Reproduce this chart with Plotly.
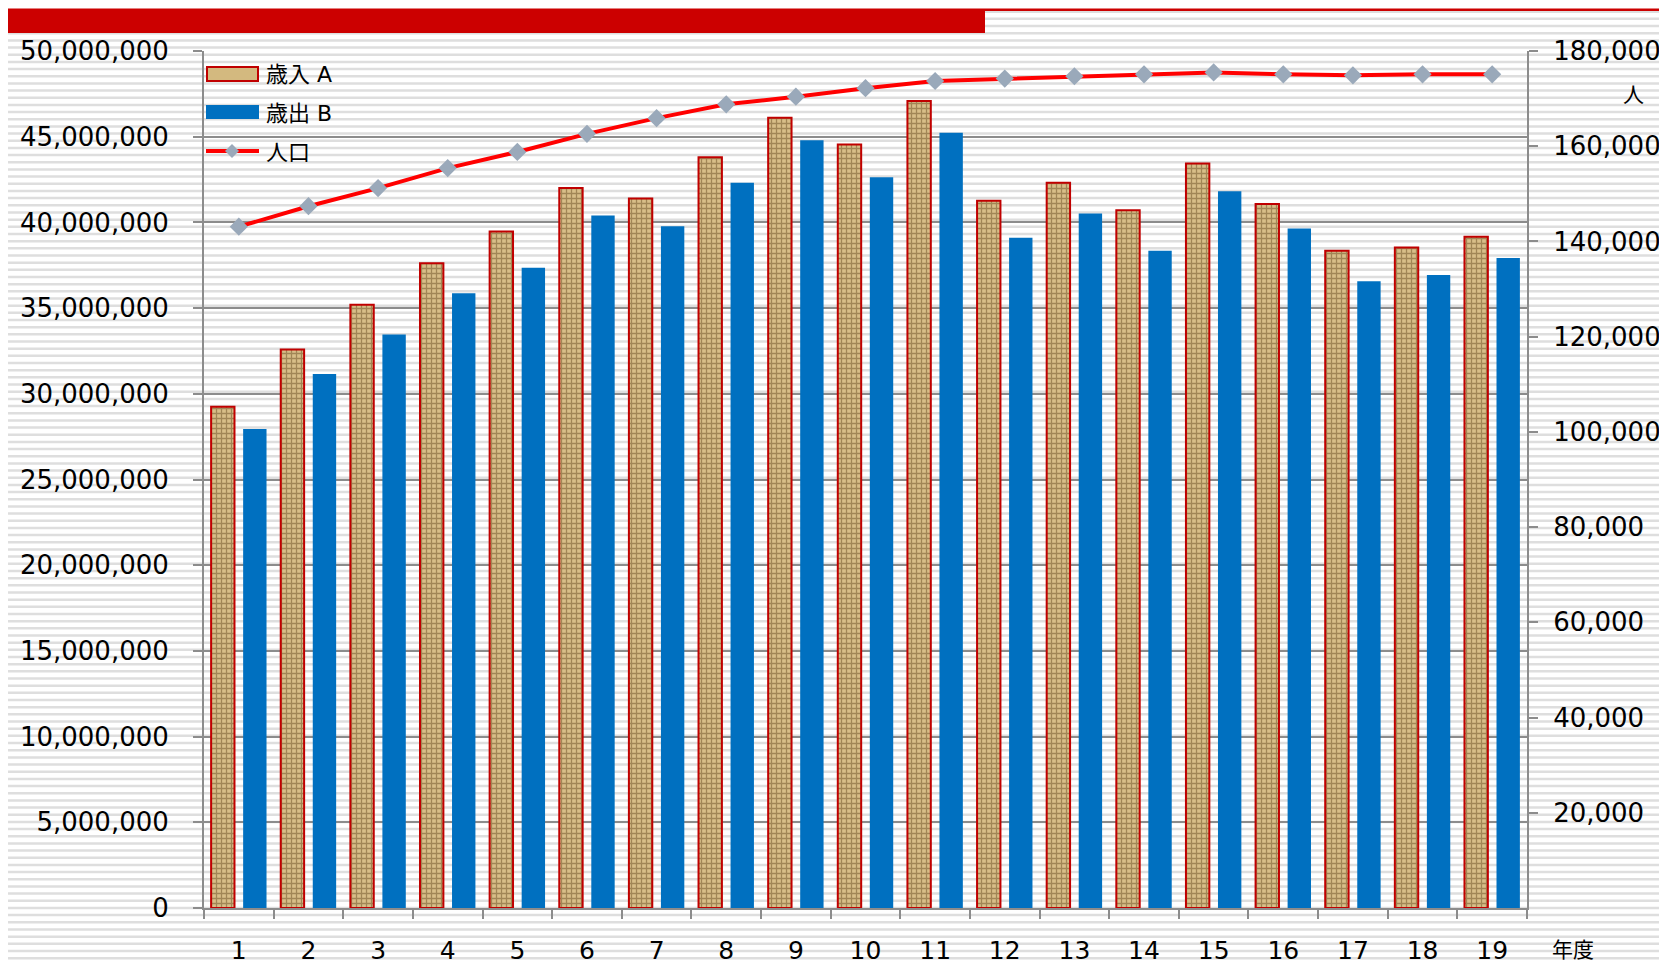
import plotly.graph_objects as go

# data
years = [str(i) for i in range(1, 20)]
revenue = [29240000, 32590000, 35190000, 37610000, 39470000, 42010000, 41390000,
           43800000, 46100000, 44550000, 47090000, 41260000, 42320000, 40710000,
           43430000, 41080000, 38350000, 38540000, 39160000]
expenditure = [27940000, 31160000, 33460000, 35870000, 37360000, 40400000, 39780000,
               42320000, 44800000, 42630000, 45230000, 39100000, 40520000, 38350000,
               41820000, 39650000, 36560000, 36930000, 37920000]
population = [143100, 147400, 151200, 155400, 158800, 162600, 165900, 168800, 170400,
              172200, 173700, 174200, 174700, 175100, 175500, 175100, 174900, 175100,
              175100]
left_ticks = [0, 5000000, 10000000, 15000000, 20000000, 25000000, 30000000,
              35000000, 40000000, 45000000, 50000000]
right_ticks = [20000, 40000, 60000, 80000, 100000, 120000, 140000, 160000, 180000]
legend_names = ["歳入 A", "歳出 B", "人口"]

# the page body has an 8px margin, so the figure is drawn 8px in from the corner
OFF = 8
W, H = 1667 - OFF, 964 - OFF
L, R, T, B = 204 - OFF, 140, 51 - OFF, 56
PW, PH = W - L - R, H - T - B

FONT = "DejaVu Sans, Noto Sans CJK JP, sans-serif"
GRID = "#8c8c8c"
TAN = "#d3b97f"
EDGE = "#c00000"
BLUE = "#0070c0"
LINE = "#ff0000"
DIAMOND = "#9aa9ba"


def px_x(sx):
    # screen pixel -> paper x
    return (sx - OFF - L) / PW


def px_y(sy):
    # screen pixel -> paper y
    return (H - B - (sy - OFF)) / PH


fig = go.Figure()

fig.add_trace(go.Bar(
    name=legend_names[0], x=years, y=revenue,
    marker=dict(color=TAN,
                line=dict(color=EDGE, width=2),
                pattern=dict(shape="+", fgcolor="#6a4e24", bgcolor="#d8be88",
                             size=5, solidity=0.45)),
))
fig.add_trace(go.Bar(
    name=legend_names[1], x=years, y=expenditure,
    marker=dict(color=BLUE, line=dict(width=0)),
))
fig.add_trace(go.Scatter(
    name=legend_names[2], x=years, y=population, yaxis="y2",
    mode="lines+markers",
    line=dict(color=LINE, width=4),
    marker=dict(symbol="diamond", size=14, color=DIAMOND),
))

# striped background (ruled paper look)
stripes = []
sy = 11.7
while sy < 964:
    stripes.append(f"M{px_x(OFF):.5f},{px_y(sy):.5f} H{px_x(1667):.5f}")
    sy += 7.17
shapes = [dict(type="path", xref="paper", yref="paper", layer="below",
               path=" ".join(stripes), line=dict(color="#dedede", width=2.5))]

# red banner at the top
shapes.append(dict(type="rect", xref="paper", yref="paper", layer="above",
                   x0=px_x(8), x1=px_x(1667), y0=px_y(8.5), y1=px_y(11),
                   fillcolor="#cc0000", line=dict(width=0)))
shapes.append(dict(type="rect", xref="paper", yref="paper", layer="above",
                   x0=px_x(8), x1=px_x(985), y0=px_y(9), y1=px_y(33),
                   fillcolor="#cc0000", line=dict(width=0)))

# legend drawn by hand so the swatches are wide like the original
shapes.append(dict(type="rect", xref="paper", yref="paper", layer="above",
                   x0=px_x(207), x1=px_x(258), y0=px_y(67), y1=px_y(81),
                   fillcolor=TAN, line=dict(color=EDGE, width=2)))
shapes.append(dict(type="rect", xref="paper", yref="paper", layer="above",
                   x0=px_x(206), x1=px_x(259), y0=px_y(105), y1=px_y(119),
                   fillcolor=BLUE, line=dict(width=0)))
shapes.append(dict(type="line", xref="paper", yref="paper", layer="above",
                   x0=px_x(206), x1=px_x(259), y0=px_y(151), y1=px_y(151),
                   line=dict(color=LINE, width=4)))
shapes.append(dict(type="path", xref="paper", yref="paper", layer="above",
                   path=(f"M{px_x(232):.5f},{px_y(144):.5f} L{px_x(239):.5f},{px_y(151):.5f} "
                         f"L{px_x(232):.5f},{px_y(158):.5f} L{px_x(225):.5f},{px_y(151):.5f} Z"),
                   fillcolor=DIAMOND, line=dict(width=0)))

annotations = [
    dict(text=legend_names[0], x=px_x(264), y=px_y(75)),
    dict(text=legend_names[1], x=px_x(264), y=px_y(113)),
    dict(text=legend_names[2], x=px_x(264), y=px_y(152)),
]
for a in annotations:
    a.update(xref="paper", yref="paper", xanchor="left", yanchor="middle",
             showarrow=False, font=dict(size=22))
annotations += [
    dict(text="人", xref="paper", yref="paper", x=px_x(1633), y=px_y(95),
         xanchor="center", yanchor="middle", showarrow=False, font=dict(size=21)),
    dict(text="年度", xref="paper", yref="paper", x=px_x(1573), y=px_y(950),
         xanchor="center", yanchor="middle", showarrow=False, font=dict(size=21)),
]

fig.update_layout(
    width=W, height=H,
    margin=dict(l=L, r=R, t=T, b=B, autoexpand=False),
    paper_bgcolor="white", plot_bgcolor="rgba(0,0,0,0)",
    font=dict(family=FONT, size=26, color="#000000"),
    barmode="group", bargap=0.08, bargroupgap=0.27,
    shapes=shapes,
    annotations=annotations,
    showlegend=False,
    xaxis=dict(type="category", range=[-0.5, 18.5], showgrid=False,
               showline=True, linecolor=GRID, linewidth=2, ticks="outside",
               tickson="boundaries", ticklen=9, tickcolor=GRID, tickwidth=2,
               ticklabelstandoff=19, tickfont=dict(size=25), automargin=False),
    yaxis=dict(range=[0, 50000000], tickvals=left_ticks, tickformat=",d",
               showgrid=True, gridcolor=GRID, gridwidth=2,
               showline=True, linecolor=GRID, linewidth=2, zeroline=False,
               ticks="outside", ticklen=9, tickcolor=GRID, tickwidth=2,
               ticklabelstandoff=19, automargin=False),
    yaxis2=dict(overlaying="y", side="right", range=[0, 180000],
                tickvals=right_ticks, tickformat=",d", showgrid=False,
                showline=True, linecolor=GRID, linewidth=2, zeroline=False,
                ticks="outside", ticklen=9, tickcolor=GRID, tickwidth=2,
                ticklabelstandoff=10, automargin=False),
)

fig.write_html("out.html")
